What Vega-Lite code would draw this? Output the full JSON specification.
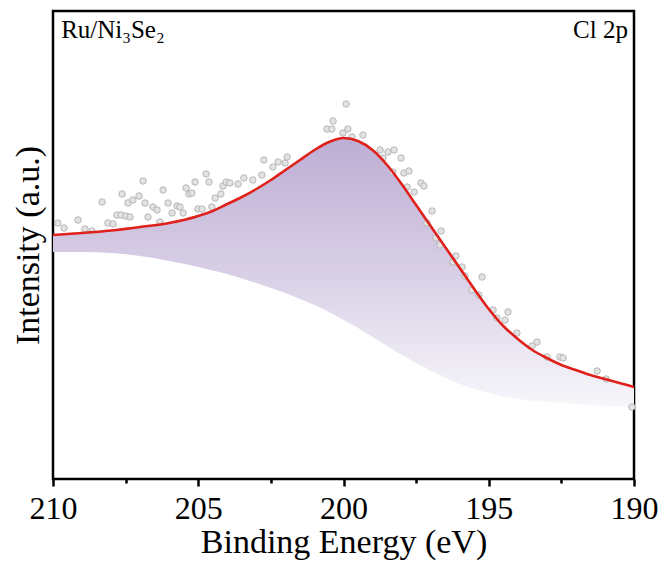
{
  "$schema": "https://vega.github.io/schema/vega-lite/v6.json",
  "width": 581,
  "height": 468,
  "autosize": {"type": "none"},
  "padding": {"left": 53, "top": 11, "right": 31, "bottom": 91},
  "background": "white",
  "config": {
    "view": {"stroke": "black", "strokeWidth": 2.5},
    "font": "Liberation Serif",
    "axis": {"labelFont": "Liberation Serif", "titleFont": "Liberation Serif"},
    "text": {"font": "Liberation Serif"}
  },
  "datasets": {
    "fit": [
      {"e": 210, "env": 244, "bg": 227},
      {"e": 209, "env": 246, "bg": 227},
      {"e": 208, "env": 248.5, "bg": 226},
      {"e": 207, "env": 252, "bg": 223},
      {"e": 206, "env": 256, "bg": 218},
      {"e": 205, "env": 263, "bg": 212},
      {"e": 204.5, "env": 268, "bg": 208.5},
      {"e": 204, "env": 275, "bg": 205},
      {"e": 203.5, "env": 282, "bg": 200.5},
      {"e": 203, "env": 290, "bg": 196},
      {"e": 202.5, "env": 299, "bg": 191},
      {"e": 202, "env": 309, "bg": 186},
      {"e": 201.5, "env": 319, "bg": 180},
      {"e": 201, "env": 329, "bg": 174},
      {"e": 200.5, "env": 337, "bg": 167},
      {"e": 200, "env": 341, "bg": 159},
      {"e": 199.5, "env": 338, "bg": 151},
      {"e": 199, "env": 329, "bg": 142},
      {"e": 198.5, "env": 314, "bg": 133},
      {"e": 198, "env": 295, "bg": 124},
      {"e": 197.5, "env": 274, "bg": 116},
      {"e": 197, "env": 253, "bg": 108},
      {"e": 196.5, "env": 232, "bg": 101},
      {"e": 196, "env": 211, "bg": 95},
      {"e": 195.5, "env": 190, "bg": 90},
      {"e": 195, "env": 170, "bg": 86},
      {"e": 194.5, "env": 153, "bg": 82},
      {"e": 194, "env": 140, "bg": 80},
      {"e": 193.5, "env": 129, "bg": 78},
      {"e": 193, "env": 121, "bg": 77},
      {"e": 192.5, "env": 114, "bg": 76},
      {"e": 192, "env": 109, "bg": 75},
      {"e": 191.5, "env": 104, "bg": 74},
      {"e": 191, "env": 100, "bg": 73},
      {"e": 190.5, "env": 96, "bg": 72.5},
      {"e": 190, "env": 92, "bg": 72}
    ],
    "raw": [
      {"e": 209.83, "v": 256}, {"e": 209.62, "v": 251}, {"e": 209.14, "v": 259},
      {"e": 208.90, "v": 250}, {"e": 208.66, "v": 248}, {"e": 208.31, "v": 277},
      {"e": 208.11, "v": 256}, {"e": 207.93, "v": 255}, {"e": 207.80, "v": 264},
      {"e": 207.66, "v": 264}, {"e": 207.49, "v": 263}, {"e": 207.35, "v": 262},
      {"e": 207.62, "v": 285}, {"e": 207.42, "v": 276}, {"e": 207.25, "v": 279},
      {"e": 207.04, "v": 283}, {"e": 206.90, "v": 298}, {"e": 206.83, "v": 276},
      {"e": 206.73, "v": 262}, {"e": 206.56, "v": 272}, {"e": 206.42, "v": 269},
      {"e": 206.32, "v": 257}, {"e": 206.21, "v": 289}, {"e": 206.04, "v": 276},
      {"e": 205.90, "v": 266}, {"e": 205.73, "v": 273}, {"e": 205.63, "v": 272},
      {"e": 205.52, "v": 266}, {"e": 205.42, "v": 291}, {"e": 205.32, "v": 285},
      {"e": 205.22, "v": 286}, {"e": 205.11, "v": 297}, {"e": 205.01, "v": 270},
      {"e": 204.87, "v": 270}, {"e": 204.73, "v": 305}, {"e": 204.63, "v": 297},
      {"e": 204.53, "v": 272}, {"e": 204.42, "v": 281}, {"e": 204.22, "v": 285},
      {"e": 204.15, "v": 293}, {"e": 204.04, "v": 297}, {"e": 203.91, "v": 296},
      {"e": 203.63, "v": 295}, {"e": 203.43, "v": 301}, {"e": 203.12, "v": 299},
      {"e": 202.81, "v": 304}, {"e": 202.74, "v": 319}, {"e": 202.43, "v": 312},
      {"e": 202.25, "v": 317}, {"e": 202.01, "v": 316}, {"e": 201.94, "v": 322},
      {"e": 200.57, "v": 350}, {"e": 200.40, "v": 350}, {"e": 200.36, "v": 358},
      {"e": 200.02, "v": 346}, {"e": 199.91, "v": 375}, {"e": 199.85, "v": 350},
      {"e": 199.71, "v": 342}, {"e": 199.33, "v": 344}, {"e": 198.74, "v": 329},
      {"e": 198.64, "v": 321}, {"e": 198.47, "v": 327}, {"e": 198.26, "v": 329},
      {"e": 198.02, "v": 321}, {"e": 197.92, "v": 306}, {"e": 197.75, "v": 308},
      {"e": 198.30, "v": 307}, {"e": 197.81, "v": 292}, {"e": 197.33, "v": 296},
      {"e": 197.23, "v": 293}, {"e": 197.57, "v": 287}, {"e": 196.95, "v": 268},
      {"e": 197.13, "v": 256}, {"e": 196.64, "v": 248}, {"e": 196.82, "v": 241},
      {"e": 196.68, "v": 234}, {"e": 196.13, "v": 223}, {"e": 196.23, "v": 217},
      {"e": 195.92, "v": 212}, {"e": 195.82, "v": 203}, {"e": 195.23, "v": 202},
      {"e": 195.58, "v": 189}, {"e": 195.34, "v": 184}, {"e": 194.85, "v": 169},
      {"e": 194.72, "v": 161}, {"e": 194.44, "v": 159}, {"e": 194.34, "v": 167},
      {"e": 194.03, "v": 146}, {"e": 193.34, "v": 137}, {"e": 193.51, "v": 133},
      {"e": 192.99, "v": 122}, {"e": 192.55, "v": 122}, {"e": 192.44, "v": 121},
      {"e": 191.27, "v": 108}, {"e": 190.96, "v": 100}, {"e": 190.07, "v": 72}
    ],
    "labelsLeft": [{"e": 209.72, "v": 441, "t": "Ru/Ni₃Se₂"}],
    "labelsRight": [{"e": 190.21, "v": 441, "t": "Cl 2p"}]
  },
  "layer": [
    {
      "data": {"name": "fit"},
      "mark": {
        "type": "area",
        "interpolate": "monotone",
        "fill": {
          "gradient": "linear",
          "x1": 0, "y1": 0, "x2": 0, "y2": 1,
          "stops": [
            {"offset": 0, "color": "#bdaed4"},
            {"offset": 0.5, "color": "#d8cfe6"},
            {"offset": 1, "color": "#f8f7fb"}
          ]
        }
      },
      "encoding": {
        "x": {
          "field": "e", "type": "quantitative",
          "scale": {"domain": [190, 210], "reverse": true, "nice": false, "zero": false},
          "axis": {
            "title": "Binding Energy (eV)",
            "values": [210, 207.5, 205, 202.5, 200, 197.5, 195, 192.5, 190],
            "labelExpr": "datum.value % 5 === 0 ? datum.label : ''",
            "tickSize": {"condition": {"test": "datum.value % 5 === 0", "value": 7}, "value": 4},
            "tickWidth": 2.5,
            "tickColor": "black",
            "domain": false,
            "grid": false,
            "labelFont": "Liberation Serif",
            "labelFontSize": 32,
            "labelColor": "black",
            "labelPadding": 7,
            "labelFlush": false,
            "labelOverlap": false,
            "titleFont": "Liberation Serif",
            "titleFontSize": 34,
            "titleFontWeight": "normal",
            "titleColor": "black",
            "titlePadding": 1
          }
        },
        "y": {
          "field": "env", "type": "quantitative",
          "scale": {"domain": [0, 468], "nice": false, "zero": false},
          "axis": {
            "title": "Intensity (a.u.)",
            "labels": false,
            "ticks": false,
            "domain": false,
            "grid": false,
            "titleFont": "Liberation Serif",
            "titleFontSize": 34,
            "titleFontWeight": "normal",
            "titleColor": "black",
            "titlePadding": 8
          }
        },
        "y2": {"field": "bg"}
      }
    },
    {
      "data": {"name": "raw"},
      "mark": {"type": "point", "shape": "circle", "filled": true, "size": 42, "fill": "#e2e2e2", "stroke": "#a9a9a9", "strokeWidth": 0.8, "opacity": 1},
      "encoding": {
        "x": {"field": "e", "type": "quantitative"},
        "y": {"field": "v", "type": "quantitative"}
      }
    },
    {
      "data": {"name": "fit"},
      "mark": {"type": "line", "interpolate": "monotone", "color": "#e0201b", "strokeWidth": 2.6},
      "encoding": {
        "x": {"field": "e", "type": "quantitative"},
        "y": {"field": "env", "type": "quantitative"}
      }
    },
    {
      "data": {"name": "labelsLeft"},
      "mark": {"type": "text", "align": "left", "baseline": "alphabetic", "font": "Liberation Serif", "fontSize": 25, "color": "black"},
      "encoding": {
        "x": {"field": "e", "type": "quantitative"},
        "y": {"field": "v", "type": "quantitative"},
        "text": {"field": "t"}
      }
    },
    {
      "data": {"name": "labelsRight"},
      "mark": {"type": "text", "align": "right", "baseline": "alphabetic", "font": "Liberation Serif", "fontSize": 25, "color": "black"},
      "encoding": {
        "x": {"field": "e", "type": "quantitative"},
        "y": {"field": "v", "type": "quantitative"},
        "text": {"field": "t"}
      }
    }
  ]
}
